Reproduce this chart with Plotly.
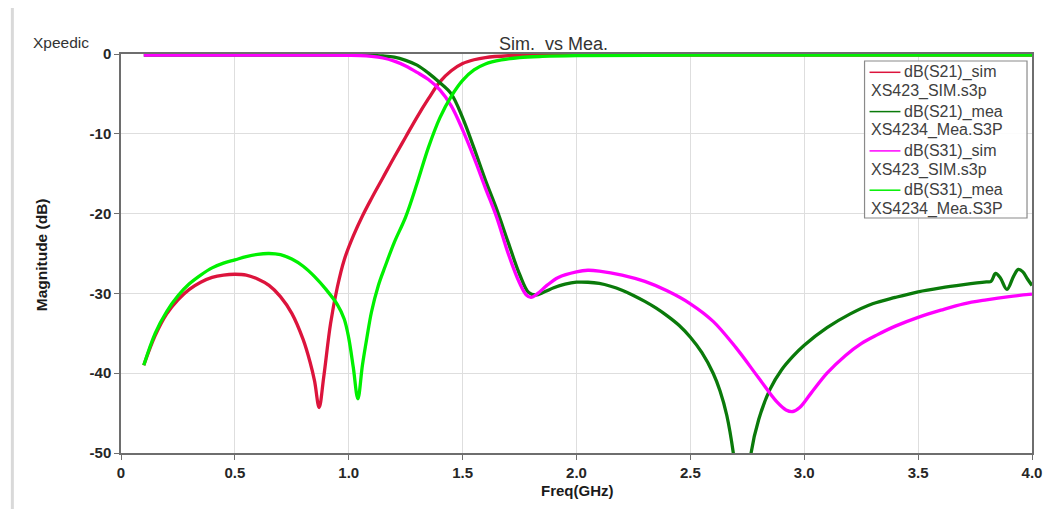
import plotly.graph_objects as go

# ---------------- data ----------------
f_s21_sim = [0.1, 0.15, 0.2, 0.25, 0.3, 0.35, 0.4, 0.45, 0.5, 0.55, 0.6, 0.65, 0.7, 0.75, 0.8,
             0.83, 0.85, 0.87, 0.89, 0.92, 0.95, 0.98, 1.02, 1.06, 1.1, 1.15, 1.2, 1.25, 1.3, 1.35, 1.4,
             1.45, 1.5, 1.55, 1.6, 1.7, 1.8, 1.9, 2.0, 2.5, 3.0, 3.5, 4.0]
db_s21_sim = [-39.0, -35.3, -32.6, -30.8, -29.5, -28.6, -28.0, -27.7, -27.6, -27.7, -28.2, -29.0, -30.4, -32.5, -35.8,
              -38.6, -41.0, -44.3, -40.5, -33.8, -29.2, -25.8, -22.8, -20.3, -18.1, -15.5, -12.9, -10.4, -7.9, -5.6, -3.5,
              -2.1, -1.2, -0.72, -0.44, -0.22, -0.16, -0.15, -0.15, -0.15, -0.15, -0.15, -0.15]

f_s21_mea = [0.1, 0.3, 0.5, 0.7, 0.9, 1.0, 1.1, 1.15, 1.2, 1.25, 1.3, 1.35, 1.4, 1.45, 1.5, 1.55,
             1.6, 1.65, 1.7, 1.75, 1.79, 1.82, 1.86, 1.9, 1.95, 2.0, 2.05, 2.1, 2.15, 2.2, 2.25, 2.3, 2.35, 2.4, 2.45, 2.5,
             2.55, 2.6, 2.63, 2.66, 2.69, 2.72, 2.745, 2.765, 2.8, 2.85, 2.9, 2.95, 3.0, 3.1, 3.2, 3.3, 3.4,
             3.5, 3.6, 3.7, 3.8, 3.82, 3.84, 3.86, 3.89, 3.92, 3.94, 3.96, 3.98, 4.0]
db_s21_mea = [-0.15, -0.15, -0.15, -0.15, -0.15, -0.15, -0.18, -0.25, -0.4, -0.8, -1.4, -2.4, -3.6, -5.0, -8.0, -11.8,
              -15.8, -19.5, -23.6, -27.6, -29.9, -30.2, -29.8, -29.3, -28.85, -28.6, -28.6, -28.75, -29.1, -29.6, -30.25, -31.0,
              -31.85, -32.85, -34.0, -35.5,
              -37.4, -40.0, -42.2, -45.3, -50.3, -58.0, -58.0, -50.3, -45.8, -42.0, -39.6, -37.9, -36.5, -34.3, -32.6, -31.3, -30.5,
              -29.8, -29.3, -28.9, -28.55, -28.5, -27.5, -28.0, -29.5, -27.8, -27.0, -27.3, -28.2, -29.0]

f_s31_sim = [0.1, 0.3, 0.5, 0.7, 0.9, 1.0, 1.05, 1.1, 1.15, 1.2, 1.25, 1.3, 1.35, 1.4, 1.45, 1.5, 1.55,
             1.6, 1.65, 1.7, 1.75, 1.78, 1.8, 1.83, 1.87, 1.92, 2.0, 2.05, 2.1, 2.2, 2.3, 2.4, 2.5, 2.6,
             2.7, 2.8, 2.88, 2.92, 2.95, 2.98, 3.03, 3.1, 3.18, 3.25, 3.32, 3.4, 3.5, 3.6, 3.7, 3.8, 3.9, 4.0]
db_s31_sim = [-0.15, -0.15, -0.15, -0.15, -0.15, -0.17, -0.2, -0.3, -0.5, -0.9, -1.5, -2.3, -3.2, -4.5, -6.5, -9.5, -13.0,
              -16.8, -20.5, -25.0, -28.7, -30.2, -30.5, -30.0, -29.0, -28.0, -27.3, -27.1, -27.2, -27.7, -28.5, -29.7, -31.3, -33.5,
              -36.8, -40.6, -43.6, -44.6, -44.8, -44.3, -42.5, -40.0, -37.8, -36.3, -35.2, -34.1, -33.0, -32.1, -31.3, -30.8, -30.4, -30.1]

f_s31_mea = [0.1, 0.15, 0.2, 0.25, 0.3, 0.35, 0.4, 0.45, 0.5, 0.55, 0.6, 0.65, 0.7, 0.75, 0.8, 0.85,
             0.9, 0.95, 0.98, 1.0, 1.02, 1.04, 1.06, 1.08, 1.1, 1.13, 1.16, 1.2, 1.25, 1.3, 1.35, 1.4,
             1.45, 1.5, 1.55, 1.6, 1.67, 1.75, 1.85, 2.0, 2.5, 3.0, 3.5, 4.0]
db_s31_mea = [-39.0, -35.0, -32.3, -30.3, -28.8, -27.7, -26.8, -26.2, -25.8, -25.4, -25.1, -25.0, -25.15, -25.7, -26.6, -27.9,
              -29.5, -31.4, -33.2, -35.6, -39.3, -43.2, -39.0, -35.5, -32.3, -29.0, -26.6, -23.6, -20.4, -16.2, -11.7, -8.0,
              -5.3, -3.3, -2.0, -1.25, -0.75, -0.45, -0.3, -0.2, -0.15, -0.15, -0.15, -0.15]

series_names = ["dB(S21)_sim", "dB(S21)_mea", "dB(S31)_sim", "dB(S31)_mea"]
series_files = ["XS423_SIM.s3p", "XS4234_Mea.S3P", "XS423_SIM.s3p", "XS4234_Mea.S3P"]
series_colors = ["#dc143c", "#0a7a0a", "#ff00ff", "#00f000"]

x_tick_vals = [0, 0.5, 1.0, 1.5, 2.0, 2.5, 3.0, 3.5, 4.0]
x_tick_text = ["0", "0.5", "1.0", "1.5", "2.0", "2.5", "3.0", "3.5", "4.0"]
y_tick_vals = [0, -10, -20, -30, -40, -50]
y_tick_text = ["0", "-10", "-20", "-30", "-40", "-50"]

chart_title = "Sim.\u00a0 vs Mea."
x_title = "Freq(GHz)"
y_title = "Magnitude (dB)"
brand = "Xpeedic"

# ---------------- figure ----------------
# page body has an 8px margin; compensate so the plot area lands at x 121..1035, y 54..453
OFF = 8
W, H = 1054 - OFF, 509 - OFF
L, R, T, B = 121 - OFF, 19, 54 - OFF, 56
PW, PH = W - L - R, H - T - B


def px(xp):
    return (xp - OFF - L) / PW


def py(yp):
    return 1 - (yp - OFF - T) / PH


FONT = "Arial, Liberation Sans, sans-serif"

fig = go.Figure()
xs = [f_s21_sim, f_s21_mea, f_s31_sim, f_s31_mea]
ys = [db_s21_sim, db_s21_mea, db_s31_sim, db_s31_mea]
for i in range(4):
    fig.add_trace(go.Scatter(
        x=xs[i], y=ys[i], mode="lines", name=series_names[i],
        line=dict(color=series_colors[i], width=3.3, shape="spline", smoothing=1.0),
        showlegend=False, hoverinfo="x+y+name"))

axis_common = dict(
    showline=True, linecolor="#6e6e6e", linewidth=1.5, mirror=True,
    showgrid=True, gridcolor="#dedede", gridwidth=1,
    ticks="outside", ticklen=5, tickcolor="#6e6e6e", tickwidth=1,
    tickfont=dict(family=FONT, size=15, color="#262626", weight="bold"),
    zeroline=False, layer="below traces",
)

fig.update_layout(
    width=W, height=H,
    margin=dict(l=L, r=R, t=T, b=B, pad=0),
    paper_bgcolor="white", plot_bgcolor="white",
    xaxis=dict(range=[0, 4.0], tickmode="array", tickvals=x_tick_vals, ticktext=x_tick_text, **axis_common),
    yaxis=dict(range=[-50, 0], tickmode="array", tickvals=y_tick_vals, ticktext=y_tick_text, **axis_common),
    showlegend=False,
)

annotations = [
    dict(text=chart_title, x=px(555), y=py(44), xref="paper", yref="paper", showarrow=False,
         xanchor="center", yanchor="middle", font=dict(family=FONT, size=18, color="#333333")),
    dict(text=brand, x=px(31), y=py(43), xref="paper", yref="paper", showarrow=False,
         xanchor="left", yanchor="middle", font=dict(family=FONT, size=15.5, color="#333333")),
    dict(text=y_title, x=px(41), y=py(255), xref="paper", yref="paper", showarrow=False,
         textangle=-90, xanchor="center", yanchor="middle",
         font=dict(family=FONT, size=15.5, color="#1a1a1a", weight="bold")),
    dict(text=x_title, x=px(579), y=py(490), xref="paper", yref="paper", showarrow=False,
         xanchor="center", yanchor="middle",
         font=dict(family=FONT, size=15, color="#1a1a1a", weight="bold")),
]

shapes = [
    # legend box
    dict(type="rect", xref="paper", yref="paper", x0=px(867), x1=px(1030), y0=py(218), y1=py(61),
         line=dict(color="#8a8a8a", width=1.2), fillcolor="rgba(255,255,255,0.9)", layer="above"),
    # screenshot frame line on left
    dict(type="line", xref="paper", yref="paper", x0=px(12), x1=px(12), y0=py(509), y1=py(OFF),
         line=dict(color="#d9d9d9", width=3)),
]

for i in range(4):
    yl = 72.3 + 39.3 * i
    yf = 91.0 + 39.3 * i
    shapes.append(dict(type="line", xref="paper", yref="paper", x0=px(872), x1=px(903),
                       y0=py(yl), y1=py(yl), line=dict(color=series_colors[i], width=1.5), layer="above"))
    annotations.append(dict(text=series_names[i], x=px(905), y=py(yl), xref="paper", yref="paper",
                            showarrow=False, xanchor="left", yanchor="middle",
                            font=dict(family=FONT, size=16, color="#404040")))
    annotations.append(dict(text=series_files[i], x=px(871), y=py(yf), xref="paper", yref="paper",
                            showarrow=False, xanchor="left", yanchor="middle",
                            font=dict(family=FONT, size=16, color="#404040")))

fig.update_layout(annotations=annotations, shapes=shapes)

fig.write_html("out.html")
